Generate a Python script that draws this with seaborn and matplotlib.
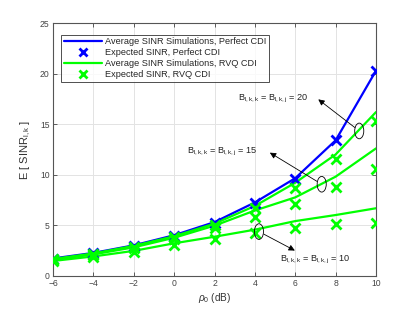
import numpy as np
import pandas as pd
import seaborn as sns
import matplotlib
matplotlib.use("Agg")
import matplotlib.pyplot as plt
from matplotlib.patches import Ellipse
from matplotlib.lines import Line2D

# ---------------- data ----------------
rho_db = [-6, -4, -2, 0, 2, 4, 6, 8, 10]
perfect_sim = [1.7, 2.25, 3.0, 4.0, 5.3, 7.25, 9.65, 13.4, 20.3]
perfect_exp = [1.65, 2.2, 2.95, 3.95, 5.25, 7.2, 9.6, 13.45, 20.3]
rvq20_sim = [1.65, 2.2, 2.95, 3.9, 5.15, 6.9, 9.2, 12.0, 16.2]
rvq20_exp = [1.6, 2.15, 2.85, 3.8, 5.0, 6.7, 8.65, 11.6, 15.3]
rvq15_sim = [1.55, 2.1, 2.8, 3.75, 4.95, 6.45, 7.75, 9.8, 12.6]
rvq15_exp = [1.5, 2.05, 2.7, 3.6, 4.7, 5.85, 7.1, 8.8, 10.6]
rvq10_sim = [1.45, 1.9, 2.45, 3.2, 3.85, 4.55, 5.4, 6.0, 6.67]
rvq10_exp = [1.4, 1.8, 2.35, 3.0, 3.6, 4.2, 4.75, 5.15, 5.2]

legend_labels = ["Average SINR Simulations, Perfect CDI",
                 "Expected SINR, Perfect CDI",
                 "Average SINR Simulations, RVQ CDI",
                 "Expected SINR, RVQ CDI"]
bit_labels = [20, 15, 10]

BLUE = "#0000ff"
GREEN = "#00ff00"

sns.set_style("ticks")
plt.rcParams["font.family"] = ["Liberation Sans", "DejaVu Sans"]
plt.rcParams["mathtext.fontset"] = "custom"
plt.rcParams["mathtext.rm"] = "Liberation Sans"
plt.rcParams["mathtext.it"] = "Liberation Sans:italic"

fig = plt.figure(figsize=(4.15, 3.10), dpi=100)
ax = fig.add_axes([0.128, 0.111, 0.778, 0.814])

sim_series = [(perfect_sim, BLUE), (rvq20_sim, GREEN), (rvq15_sim, GREEN), (rvq10_sim, GREEN)]
exp_series = [(perfect_exp, BLUE), (rvq20_exp, GREEN), (rvq15_exp, GREEN), (rvq10_exp, GREEN)]

for vals, col in sim_series:
    df = pd.DataFrame({"x": rho_db, "y": vals})
    sns.lineplot(data=df, x="x", y="y", ax=ax, color=col, lw=1.6, zorder=3)
for vals, col in exp_series:
    df = pd.DataFrame({"x": rho_db, "y": vals})
    sns.lineplot(data=df, x="x", y="y", ax=ax, color=col, lw=0, marker="x",
                 markersize=6.5, markeredgewidth=2, markeredgecolor=col, zorder=4)

ax.set_xlim(-6, 10)
ax.set_ylim(0, 25)
ax.set_xticks(np.arange(-6, 11, 2))
ax.set_yticks(np.arange(0, 26, 5))
ax.grid(True, color="#e3e3e3", lw=0.7)
ax.set_axisbelow(True)
for s in ax.spines.values():
    s.set_visible(True)
    s.set_color("#555555")
    s.set_linewidth(0.8)
ax.tick_params(direction="in", length=3, width=0.6, labelsize=6.2, colors="#444444",
               top=True, right=True, pad=2.5)
ax.set_xlabel(r"$\rho_0$ (dB)", fontsize=7.2, color="#333333", labelpad=2)
ax.set_ylabel(r"E [ SINR$_{\mathrm{l,k}}$ ]", fontsize=8, color="#333333", labelpad=5)

handles = [Line2D([], [], color=BLUE, lw=1.6),
           Line2D([], [], color=BLUE, lw=0, marker="x", markersize=6, markeredgewidth=2),
           Line2D([], [], color=GREEN, lw=1.6),
           Line2D([], [], color=GREEN, lw=0, marker="x", markersize=6, markeredgewidth=2)]
leg = ax.legend(handles, legend_labels, loc="upper left", bbox_to_anchor=(0.024, 0.955),
                fontsize=6.6, frameon=True, fancybox=False, edgecolor="#222222",
                handlelength=4.2, handletextpad=0.35, labelspacing=0.2,
                borderpad=0.3, borderaxespad=0)
leg.get_frame().set_linewidth(0.7)

# annotations: (ellipse centre, arrow head, text position)
annots = [((9.17, 14.33), (7.14, 17.46), (4.9, 17.5)),
          ((7.31, 9.05), (4.74, 12.18), (2.4, 12.2)),
          ((4.2, 4.36), (5.98, 2.48), (7.0, 1.5))]
for (ec, ah, tp), b in zip(annots, bit_labels):
    ax.add_patch(Ellipse(ec, 0.45, 1.55, fill=False, ec="black", lw=0.6, zorder=5))
    ax.annotate("", xy=ah, xytext=ec,
                arrowprops=dict(arrowstyle="-|>", color="black", lw=0.6,
                                mutation_scale=9, shrinkA=4, shrinkB=0), zorder=5)
    ax.text(tp[0], tp[1], r"B$_{\mathrm{l,k,k}}$ = B$_{\mathrm{l,k,j}}$ = " + str(b),
            fontsize=6.6, color="#222222", ha="center", va="center", zorder=6)

fig.savefig("out.png", dpi=100)
